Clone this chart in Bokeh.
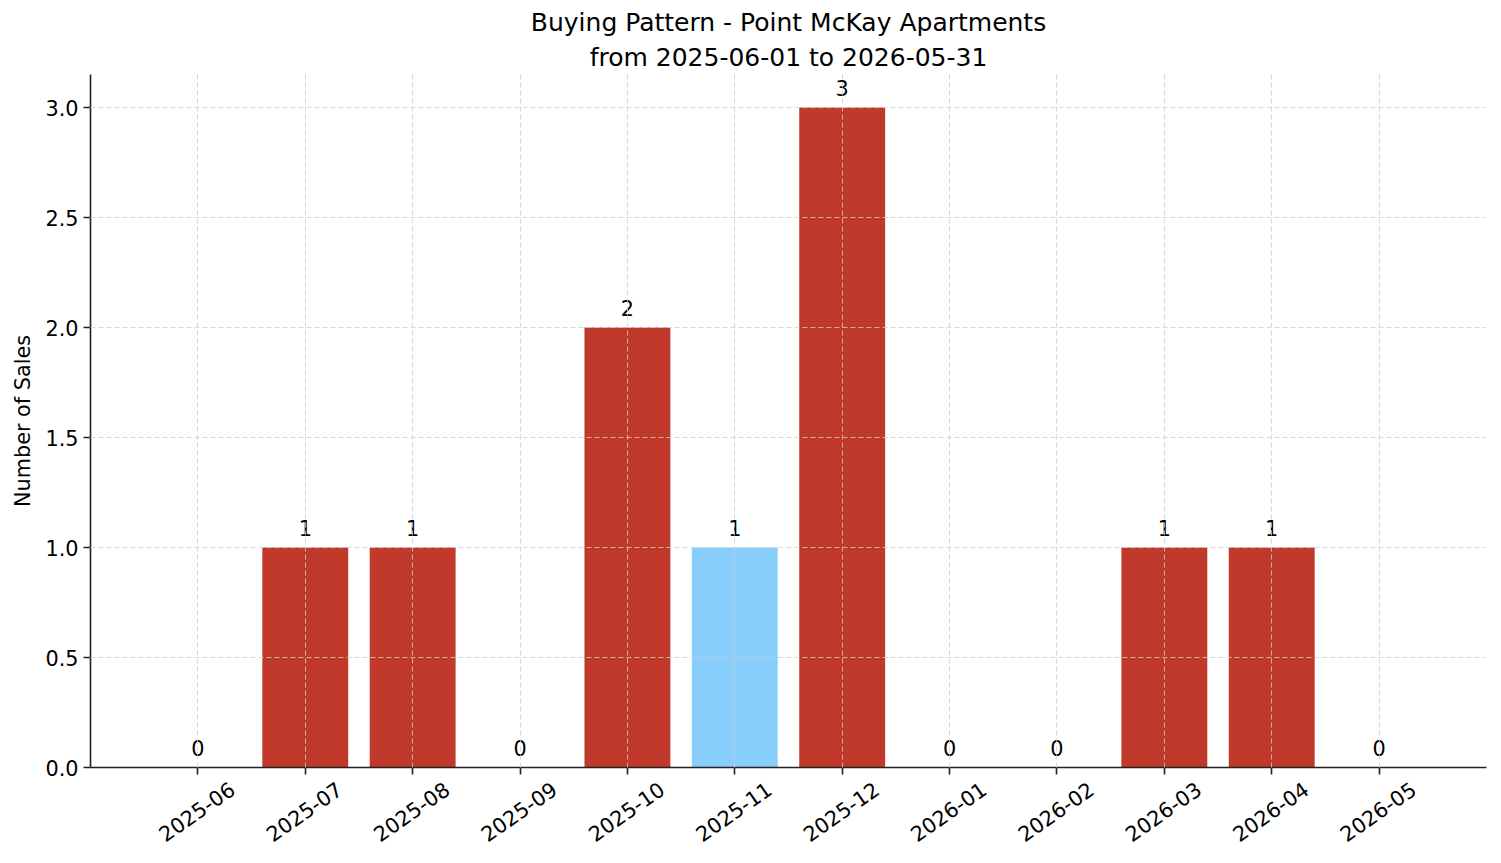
from bokeh.plotting import figure
from bokeh.models import (ColumnDataSource, Range1d, FixedTicker, PrintfTickFormatter, Title,
                          LinearAxis)
from bokeh.core.properties import value
from bokeh.embed import file_html
from bokeh.resources import INLINE

months = ["2025-06", "2025-07", "2025-08", "2025-09", "2025-10", "2025-11",
          "2025-12", "2026-01", "2026-02", "2026-03", "2026-04", "2026-05"]
sales = [0, 1, 1, 0, 2, 1, 3, 0, 0, 1, 1, 0]
highlight_month = "2025-11"
y_ticks = [0.0, 0.5, 1.0, 1.5, 2.0, 2.5, 3.0]
title_line1 = "Buying Pattern - Point McKay Apartments"
title_line2 = "from 2025-06-01 to 2026-05-31"
y_label = "Number of Sales"

RED = "#c0392b"
BLUE = "#87cefa"
FONT = "DejaVu Sans"
LABEL_SHIFT = 0.32  # horizontal shift (in category units) to centre rotated labels on ticks

idx = list(range(len(months)))
colors = [BLUE if m == highlight_month else RED for m in months]
src = ColumnDataSource(dict(x=idx, top=sales, color=colors, label=[str(v) for v in sales]))

x0, x1 = -1, len(months)
p = figure(width=1501, height=863, output_backend="svg", toolbar_location=None,
           x_range=Range1d(x0, x1), y_range=Range1d(0, 3.15),
           min_border_left=90, min_border_right=15, min_border_bottom=96, min_border_top=74)
p.extra_x_ranges = {"lab": Range1d(x0 - LABEL_SHIFT, x1 - LABEL_SHIFT)}
p.outline_line_color = None
p.background_fill_color = "white"
p.border_fill_color = "white"

p.title = Title(text=title_line1, align="center", text_font_size="25px",
                text_font=FONT, text_font_style="normal", text_color="black", standoff=1,
                text_line_height=0.75)
p.add_layout(Title(text=title_line2, align="center", text_font_size="25px",
                   text_font=FONT, text_font_style="normal", text_color="black",
                   standoff=6, text_line_height=0.75), "above")

p.vbar(x="x", top="top", width=0.8, bottom=0, color="color", line_color=None, source=src)
p.text(x="x", y="top", text="label", source=src, text_align="center", text_baseline="bottom",
       y_offset=-12, text_font=value(FONT), text_font_size="20.8px", text_color="black")

for g in (p.xgrid, p.ygrid):
    g.grid_line_color = "#cfcfcf"
    g.grid_line_dash = "5 3"
    g.grid_line_width = 0.8
    g.level = "overlay"
p.xgrid.ticker = FixedTicker(ticks=idx)
p.ygrid.ticker = FixedTicker(ticks=y_ticks)

# tick-only x axis (closest to the frame)
p.xaxis.ticker = FixedTicker(ticks=idx)
p.xaxis.major_label_text_font_size = "0px"
p.xaxis.major_label_text_color = None
p.xaxis.major_label_standoff = 0

# label-only x axis below it, using the shifted range
lab_axis = LinearAxis(x_range_name="lab", ticker=FixedTicker(ticks=idx),
                      major_label_overrides={i: m for i, m in enumerate(months)},
                      major_label_orientation=0.61,
                      axis_line_color=None, major_tick_line_color=None,
                      minor_tick_line_color=None, major_tick_out=0, major_tick_in=0,
                      major_label_standoff=12,
                      major_label_text_font=FONT, major_label_text_font_size="20.8px",
                      major_label_text_color="black")
p.add_layout(lab_axis, "below")

p.yaxis.ticker = FixedTicker(ticks=y_ticks)
p.yaxis.formatter = PrintfTickFormatter(format="%.1f")
p.yaxis.axis_label = y_label

for ax in (p.xaxis[0], p.yaxis[0]):
    ax.axis_line_width = 1.6
    ax.axis_line_color = "#222222"
    ax.major_tick_line_width = 1.6
    ax.major_tick_line_color = "#222222"
    ax.major_tick_out = 7
    ax.major_tick_in = 0
    ax.minor_tick_line_color = None
    ax.axis_label_text_font = FONT
    ax.axis_label_text_font_size = "20.8px"
    ax.axis_label_text_font_style = "normal"
    ax.axis_label_text_color = "black"
p.yaxis.major_label_text_font = FONT
p.yaxis.major_label_text_font_size = "20.8px"
p.yaxis.major_label_text_color = "black"
p.yaxis.major_label_standoff = 5
p.yaxis.axis_label_standoff = 7

open("out.html", "w").write(file_html(p, INLINE))
